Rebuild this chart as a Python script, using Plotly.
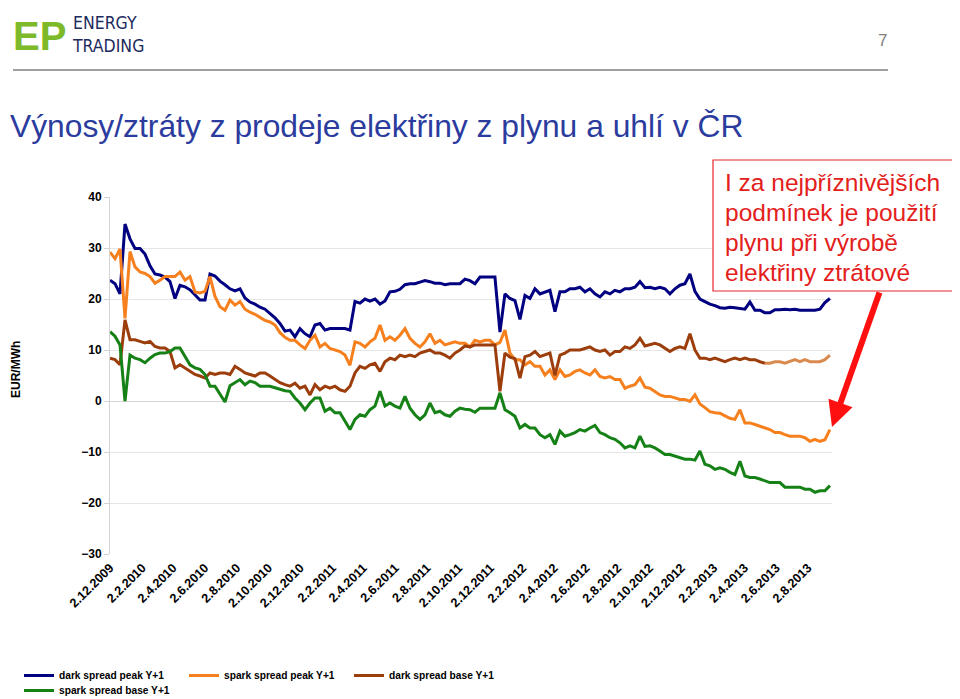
import pandas as pd
import plotly.graph_objects as go

# ---------------- data (EUR/MWh), sampled roughly every 9-10 days ----------------
start_date = "2009-12-02"
end_date = "2013-09-13"
n_points = 145
dates = pd.date_range(start_date, end_date, periods=n_points)

dark_spread_peak = [
    23.7, 23.0, 21.0, 34.7, 31.8, 29.9, 29.9, 28.8, 26.5, 24.9,
    24.7, 24.3, 23.4, 20.1, 22.7, 22.4, 21.8, 20.8, 19.8, 19.8,
    24.9, 24.5, 23.5, 22.8, 22.0, 21.6, 22.0, 20.2, 19.4, 19.0,
    18.4, 18.0, 17.2, 16.3, 15.2, 13.7, 13.9, 12.6, 14.2, 13.2,
    12.6, 14.9, 15.2, 13.9, 14.2, 14.2, 14.2, 14.2, 13.9, 19.5,
    19.2, 20.0, 19.6, 20.0, 19.0, 19.6, 21.4, 21.5, 21.9, 22.8,
    23.0, 23.0, 23.3, 23.6, 23.4, 23.1, 23.1, 22.8, 23.0, 23.0,
    23.0, 23.9, 23.6, 23.0, 24.3, 24.3, 24.3, 24.3, 13.5, 21.0,
    20.1, 19.7, 16.0, 20.7, 20.1, 22.0, 21.0, 21.4, 21.7, 17.5,
    21.4, 21.4, 22.0, 22.0, 22.3, 21.4, 22.0, 21.0, 20.4, 21.4,
    21.0, 21.7, 21.4, 22.0, 22.0, 22.3, 23.4, 22.2, 22.3, 22.0,
    22.3, 22.0, 21.0, 22.0, 22.7, 23.0, 24.9, 21.5, 20.0, 19.5,
    19.0, 18.7, 18.3, 18.2, 18.4, 18.3, 18.1, 18.0, 19.4, 17.8,
    17.8, 17.3, 17.3, 17.9, 17.9, 18.0, 17.9, 18.0, 17.8, 17.8,
    17.8, 17.8, 18.0, 19.3, 20.1,
]

spark_spread_peak = [
    29.2, 27.9, 29.8, 16.2, 29.3, 26.3, 25.3, 25.0, 24.4, 23.1,
    23.7, 24.4, 24.4, 24.4, 25.3, 23.7, 24.4, 21.4, 21.2, 21.5,
    24.4, 20.5, 18.5, 17.8, 19.8, 18.8, 19.5, 18.0, 17.4, 17.0,
    16.4, 15.8, 15.5, 14.9, 13.4, 12.5, 11.9, 11.9, 11.0, 10.3,
    11.9, 12.9, 10.6, 11.3, 10.3, 10.0, 9.7, 9.0, 7.0, 11.6,
    11.3, 10.6, 11.6, 12.3, 14.9, 11.9, 12.6, 11.9, 12.9, 14.2,
    12.3, 11.3, 10.6, 11.6, 13.2, 11.3, 11.9, 11.0, 11.3, 11.6,
    11.3, 11.3, 10.6, 11.9, 11.6, 11.9, 11.9, 11.0, 11.5, 13.9,
    9.4, 8.1, 8.1, 7.1, 7.7, 6.8, 6.8, 5.1, 6.1, 4.2,
    6.1, 4.8, 5.1, 5.8, 6.1, 5.5, 5.1, 6.1, 4.8, 4.5,
    4.8, 4.2, 4.2, 2.5, 2.9, 3.2, 4.5, 2.7, 2.5, 1.9,
    1.2, 0.9, 0.9, 0.6, 0.3, 0.3, -0.1, 1.2, -0.6, -1.3,
    -2.1, -2.3, -2.4, -2.9, -3.4, -3.6, -1.7, -4.3, -4.3, -4.6,
    -4.9, -5.3, -5.6, -6.2, -6.2, -6.6, -6.9, -6.9, -6.9, -7.2,
    -7.9, -7.5, -7.9, -7.6, -5.6,
]

dark_spread_base = [
    8.4, 8.1, 7.1, 15.9, 12.0, 12.0, 11.7, 11.4, 11.7, 10.7,
    10.4, 10.4, 9.7, 6.5, 7.1, 6.5, 5.8, 5.2, 4.9, 4.5,
    5.5, 5.2, 5.5, 5.5, 5.2, 6.8, 6.2, 5.5, 5.2, 4.9,
    5.5, 5.5, 4.9, 4.2, 3.6, 3.2, 2.9, 3.5, 2.5, 2.9,
    1.2, 3.2, 2.2, 2.9, 2.5, 2.9, 2.2, 1.9, 2.9, 5.5,
    6.8, 6.4, 7.1, 7.4, 5.8, 7.7, 8.4, 8.1, 9.0, 8.7,
    9.0, 8.7, 9.4, 9.7, 10.0, 9.4, 9.4, 9.0, 8.4, 9.4,
    10.0, 10.8, 10.6, 11.0, 11.0, 11.0, 11.0, 11.0, 1.9, 9.4,
    8.6, 8.3, 4.5, 8.7, 9.0, 9.7, 8.7, 9.0, 9.4, 5.0,
    9.0, 9.4, 10.0, 10.0, 10.0, 10.3, 10.6, 10.0, 9.7, 10.0,
    9.0, 9.7, 9.7, 10.6, 10.3, 11.0, 12.3, 10.8, 11.0, 11.3,
    11.0, 10.3, 9.7, 10.3, 10.6, 10.3, 13.2, 10.0, 8.4, 8.4,
    8.1, 8.4, 8.1, 7.7, 8.1, 8.4, 8.1, 8.4, 8.1, 8.1,
    7.7, 7.4, 7.4, 7.7, 7.7, 7.4, 7.7, 8.1, 7.7, 8.1,
    7.7, 7.7, 7.7, 8.1, 9.0,
]

spark_spread_base = [
    13.6, 12.7, 11.0, 0.0, 9.0, 8.4, 8.1, 7.5, 8.4, 9.1,
    9.4, 9.4, 9.7, 10.4, 10.4, 8.8, 7.1, 6.5, 6.2, 5.2,
    2.9, 2.9, 1.3, -0.2, 3.0, 3.6, 4.2, 3.2, 3.9, 3.6,
    2.9, 2.9, 2.9, 2.6, 2.3, 2.0, 1.9, 0.6, -0.4, -1.7,
    -0.4, 0.6, 0.6, -2.0, -1.4, -2.3, -2.3, -4.0, -5.6, -3.6,
    -2.7, -3.0, -1.7, -1.0, 1.9, -1.0, -0.4, -1.0, -1.4, 0.9,
    -1.4, -2.7, -3.6, -2.7, -0.4, -2.3, -2.0, -2.7, -3.0, -2.0,
    -1.4, -1.6, -1.7, -2.2, -1.4, -1.4, -1.4, -1.4, 1.6, -1.7,
    -2.3, -3.0, -5.3, -4.6, -5.3, -5.3, -6.6, -7.2, -6.6, -8.5,
    -5.9, -6.9, -6.6, -6.2, -5.6, -5.9, -5.3, -4.8, -6.2, -6.6,
    -7.2, -7.5, -8.2, -9.2, -8.8, -9.2, -6.9, -8.9, -8.8, -9.2,
    -9.8, -10.5, -10.5, -10.8, -11.1, -11.4, -11.4, -11.6, -9.8, -12.4,
    -12.7, -13.4, -13.1, -13.4, -14.0, -14.4, -11.8, -14.7, -15.0, -15.0,
    -15.3, -15.6, -16.0, -16.0, -16.0, -16.9, -16.9, -16.9, -16.9, -17.3,
    -17.3, -17.9, -17.6, -17.6, -16.6,
]

series_names = ["dark spread peak Y+1", "spark spread peak Y+1",
                "dark spread base Y+1", "spark spread base Y+1"]
series_colors = ["#000080", "#F7801E", "#9C3D0C", "#168116"]
tail_color = "#D98B4F"
tail_start = 131

y_ticks = [-30, -20, -10, 0, 10, 20, 30, 40]
x_range = ["2009-12-02", "2013-09-17"]

title_text = "Výnosy/ztráty z prodeje elektřiny z plynu a uhlí v ČR"
note_lines = ["I za nejpříznivějších", "podmínek je použití",
              "plynu při výrobě", "elektřiny ztrátové"]
page_number = "7"

# ---------------- layout helpers ----------------
# the page body adds an 8px margin, so the figure is 8px smaller and
# positions below are given in page pixels of the 960x699 window
PAGE_OFF = 8
W, H = 960 - PAGE_OFF, 699 - PAGE_OFF
L, R, T, B = 110, 832, 197, 554      # plot area in page pixels
FONT = "Liberation Sans, Arial, sans-serif"


def px(x):
    return (x - L) / (R - L)


def py(y):
    return (B - y) / (B - T)


fig = go.Figure()

values = [dark_spread_peak, spark_spread_peak, dark_spread_base, spark_spread_base]
for i, (name, col, vals) in enumerate(zip(series_names, series_colors, values)):
    if i == 2:
        xs, ys = dates[:tail_start + 1], vals[:tail_start + 1]
    else:
        xs, ys = dates, vals
    fig.add_trace(go.Scatter(
        x=xs, y=ys, name=name, mode="lines",
        line=dict(color=col, width=3),
        legend="legend2" if i == 3 else "legend",
    ))
    if i == 2:
        fig.add_trace(go.Scatter(
            x=dates[tail_start:], y=vals[tail_start:], mode="lines",
            line=dict(color=tail_color, width=3), showlegend=False,
        ))

zero_pos = (0 - y_ticks[0]) / (y_ticks[-1] - y_ticks[0])
tick_font = dict(family=FONT, size=12, color="black", weight="bold")
xtick_font = dict(family=FONT, size=12.6, color="black", weight="bold")
legend_font = dict(family=FONT, size=10.2, color="black", weight="bold")

fig.update_layout(
    width=W, height=H,
    margin=dict(l=L - PAGE_OFF, r=960 - R, t=T - PAGE_OFF, b=699 - B,
                autoexpand=False),
    paper_bgcolor="white", plot_bgcolor="white",
    font=dict(family=FONT, color="black"),
    xaxis=dict(
        type="date", range=x_range, tickmode="linear", tick0="2009-12-02",
        dtick="M2", tickformat="%-d.%-m.%Y", tickangle=-45,
        tickfont=xtick_font,
        showgrid=False, zeroline=False, showline=False, ticks="",
        ticklabelstandoff=3,
    ),
    xaxis2=dict(
        type="date", range=x_range, overlaying="x", anchor="free",
        position=zero_pos, tickmode="linear", tick0="2009-12-02", dtick="M2",
        ticks="outside", ticklen=4, tickcolor="#C8C8C8", showticklabels=False,
        showgrid=False, zeroline=False, showline=False,
    ),
    yaxis=dict(
        range=[y_ticks[0], y_ticks[-1]], tickvals=y_ticks,
        tickfont=tick_font,
        showgrid=True, gridcolor="#E6E6E6", gridwidth=1,
        zeroline=True, zerolinecolor="#D4D4D4", zerolinewidth=1,
        showline=True, linecolor="#D4D4D4", linewidth=1,
        ticks="outside", ticklen=5, tickcolor="#D4D4D4",
    ),
    legend=dict(
        orientation="h", x=px(19), xanchor="left", y=py(661), yanchor="top",
        font=legend_font, entrywidth=120, entrywidthmode="pixels",
        bgcolor="rgba(0,0,0,0)",
    ),
    legend2=dict(
        orientation="h", x=px(19), xanchor="left", y=py(676), yanchor="top",
        font=legend_font, entrywidth=120, entrywidthmode="pixels",
        bgcolor="rgba(0,0,0,0)",
    ),
    showlegend=True,
)

shapes = [
    dict(type="line", xref="paper", yref="paper", x0=px(13), x1=px(888),
         y0=py(70), y1=py(70), line=dict(color="#7F7F7F", width=1.5)),
    dict(type="rect", xref="paper", yref="paper", x0=px(713), x1=px(975),
         y0=py(291), y1=py(160), line=dict(color="#E8262B", width=1.2),
         fillcolor="white", layer="above"),
]
fig.update_layout(shapes=shapes)

logo_font = "DejaVu Sans Condensed, Liberation Sans, sans-serif"
ann = [
    # arrow
    dict(x=px(832), y=py(427), xref="paper", yref="paper", text="",
         showarrow=True, ax=48, ay=-136, arrowcolor="#FF1010",
         arrowwidth=6, arrowhead=2, arrowsize=0.85, standoff=0),
    # title
    dict(x=px(8), y=py(126), xref="paper", yref="paper", text=title_text,
         showarrow=False, xanchor="left", yanchor="middle",
         font=dict(family=FONT, size=31.8, color="#2B3C9E")),
    # page number
    dict(x=px(882), y=py(40), xref="paper", yref="paper", text=page_number,
         showarrow=False, xanchor="center", yanchor="middle",
         font=dict(family=FONT, size=17, color="#808080")),
    # logo
    dict(x=px(11), y=py(36), xref="paper", yref="paper", text="<b>EP</b>",
         showarrow=False, xanchor="left", yanchor="middle",
         font=dict(family=FONT, size=40, color="#7DB928")),
    dict(x=px(70), y=py(34.5), xref="paper", yref="paper",
         text="ENERGY<br>TRADING", align="left",
         showarrow=False, xanchor="left", yanchor="middle",
         font=dict(family=logo_font, size=17.5, color="#1D2B5E")),
    # y axis title
    dict(x=px(16), y=py(370), xref="paper", yref="paper", text="EUR/MWh",
         showarrow=False, textangle=-90, xanchor="center", yanchor="middle",
         font=dict(family=FONT, size=12, color="black", weight="bold")),
]
for k, line in enumerate(note_lines):
    ann.append(dict(x=px(723), y=py(183 + 29.8 * k), xref="paper", yref="paper",
                    text=line, showarrow=False, xanchor="left",
                    yanchor="middle",
                    font=dict(family=FONT, size=24.5, color="#E3201B")))
fig.update_layout(annotations=ann)

fig.write_html("out.html")
